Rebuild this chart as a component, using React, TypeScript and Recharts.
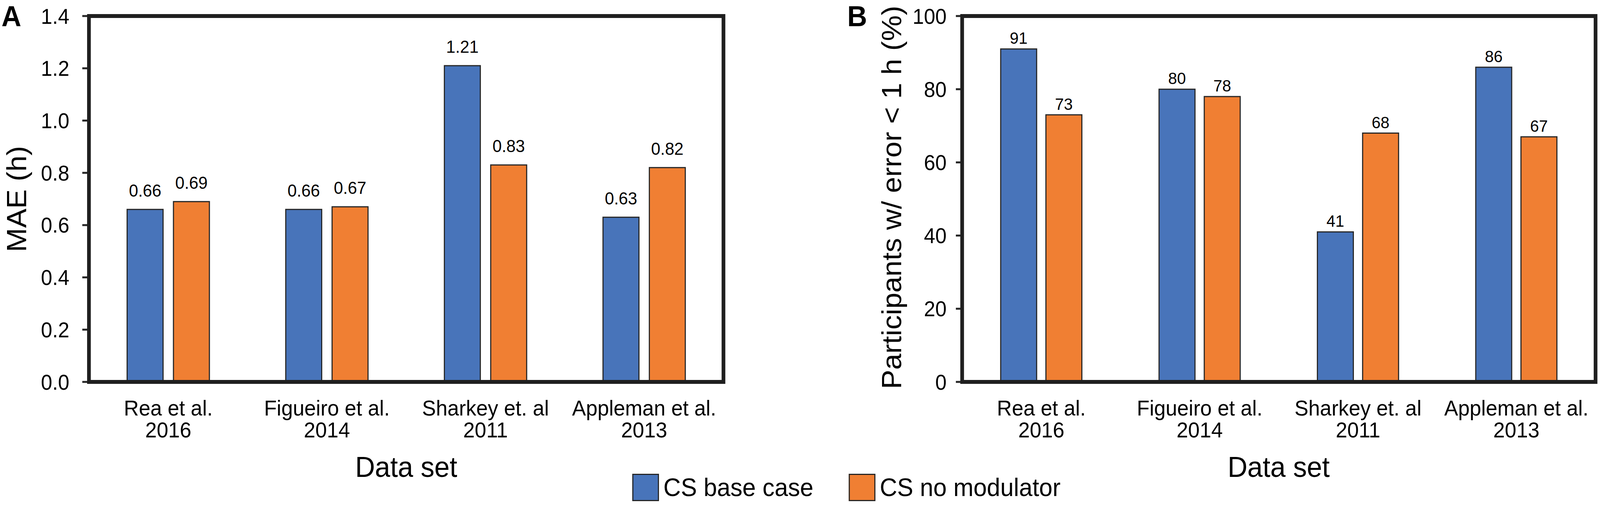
import { BarChart, Bar, XAxis, YAxis, LabelList, Legend } from 'recharts';

const categories = ['Rea 2016', 'Figueiro 2014', 'Sharkey 2011', 'Appleman 2013'];
const catLine1 = ['Rea et al.', 'Figueiro et al.', 'Sharkey et. al', 'Appleman et al.'];
const catLine2 = ['2016', '2014', '2011', '2013'];

const maeBase = [0.66, 0.66, 1.21, 0.63];
const maeNoMod = [0.69, 0.67, 0.83, 0.82];
const pctBase = [91, 80, 41, 86];
const pctNoMod = [73, 78, 68, 67];

const maeTicks = [0, 0.2, 0.4, 0.6, 0.8, 1.0, 1.2, 1.4];
const pctTicks = [0, 20, 40, 60, 80, 100];

const BLUE = '#4874BA';
const ORANGE = '#F07F33';
const EDGE = '#262626';
const FONT = '"Liberation Sans", Arial, sans-serif';
const W = 4317;
const H = 1297;

const dataA = categories.map((name, i) => ({ name, base: maeBase[i], nomod: maeNoMod[i] }));
const dataB = categories.map((name, i) => ({ name, base: pctBase[i], nomod: pctNoMod[i] }));

const CatTick = (props: any) => {
  const i = categories.indexOf(props.payload.value);
  return (
    <g>
      <text x={props.x} y={1063} textAnchor="middle" fontSize={56} fill="#000" fontFamily={FONT}>
        {catLine1[i]}
      </text>
      <text x={props.x} y={1119} textAnchor="middle" fontSize={56} fill="#000" fontFamily={FONT}>
        {catLine2[i]}
      </text>
    </g>
  );
};

const LegendBox = (props: any) => (
  <div style={{ display: 'flex', alignItems: 'center', fontFamily: FONT, fontSize: 65, whiteSpace: 'nowrap' }}>
    {(props.payload || []).map((p: any, i: number) => (
      <div key={p.value} style={{ display: 'flex', alignItems: 'center', marginRight: i === 0 ? 95 : 0 }}>
        <div style={{ width: 72, height: 70, background: p.color, border: `3px solid ${EDGE}`, boxSizing: 'border-box' }} />
        <span style={{ marginLeft: 12, color: '#000', lineHeight: '70px' }}>{p.value}</span>
      </div>
    ))}
  </div>
);

const tickStyle = { fontSize: 55, fill: '#000', fontFamily: FONT };
const valueStyle = { fill: '#000', fontFamily: FONT };

export default function App() {
  // the window may come out narrower than the figure; fit the figure to it
  const sx = typeof window !== 'undefined' ? Math.min(window.innerWidth / W, 1) : 1;
  const sy = typeof window !== 'undefined' ? Math.min(window.innerHeight / H, 1) : 1;
  return (
    <div style={{ position: 'fixed', left: 0, top: 0, width: W, height: H, background: '#fff', transform: `scale(${sx}, ${sy})`, transformOrigin: '0 0' }}>
      <div style={{ position: 'absolute', left: 0, top: 0 }}>
        <BarChart width={W} height={H} data={dataA} margin={{ top: 41, left: 0, right: W - 1952, bottom: 0 }} barSize={97} barGap={28}>
          <XAxis dataKey="name" height={320} tickLine={false} axisLine={false} interval={0} tick={(p: any) => <CatTick {...p} />} />
          <YAxis
            width={240}
            domain={[0, 1.4]}
            ticks={maeTicks}
            tickFormatter={(v: number) => v.toFixed(1)}
            axisLine={false}
            tickLine={{ stroke: EDGE, strokeWidth: 5 }}
            tickSize={18}
            tickMargin={35}
            tick={tickStyle}
          />
          <Legend
            layout="horizontal"
            verticalAlign="middle"
            align="center"
            wrapperStyle={{ left: 1706, top: 1212, width: 'auto' }}
            content={(p: any) => <LegendBox {...p} />}
          />
          <Bar dataKey="base" name="CS base case" fill={BLUE} stroke={EDGE} strokeWidth={3} isAnimationActive={false}>
            <LabelList dataKey="base" position="top" offset={33} fontSize={45} style={valueStyle} formatter={(v: any) => Number(v).toFixed(2)} />
          </Bar>
          <Bar dataKey="nomod" name="CS no modulator" fill={ORANGE} stroke={EDGE} strokeWidth={3} isAnimationActive={false}>
            <LabelList dataKey="nomod" position="top" offset={33} fontSize={45} style={valueStyle} formatter={(v: any) => Number(v).toFixed(2)} />
          </Bar>
        </BarChart>
      </div>

      <div style={{ position: 'absolute', left: 0, top: 0 }}>
        <BarChart width={W} height={H} data={dataB} margin={{ top: 41, left: 2336, right: W - 4305, bottom: 0 }} barSize={97} barGap={25}>
          <XAxis dataKey="name" height={320} tickLine={false} axisLine={false} interval={0} tick={(p: any) => <CatTick {...p} />} />
          <YAxis
            width={260}
            domain={[0, 100]}
            ticks={pctTicks}
            axisLine={false}
            tickLine={{ stroke: EDGE, strokeWidth: 5 }}
            tickSize={17}
            tickMargin={25}
            tick={tickStyle}
          />
          <Bar dataKey="base" name="CS base case" fill={BLUE} stroke={EDGE} strokeWidth={3} isAnimationActive={false}>
            <LabelList dataKey="base" position="top" offset={13} fontSize={43} style={valueStyle} />
          </Bar>
          <Bar dataKey="nomod" name="CS no modulator" fill={ORANGE} stroke={EDGE} strokeWidth={3} isAnimationActive={false}>
            <LabelList dataKey="nomod" position="top" offset={13} fontSize={43} style={valueStyle} />
          </Bar>
        </BarChart>
      </div>

      {/* plot frames */}
      <div style={{ position: 'absolute', left: 235, top: 36, width: 1722, height: 946, border: '10px solid #1f1f1f', boxSizing: 'border-box' }} />
      <div style={{ position: 'absolute', left: 2591, top: 36, width: 1719, height: 946, border: '10px solid #1f1f1f', boxSizing: 'border-box' }} />

      {/* titles */}
      <svg width={W} height={H} style={{ position: 'absolute', left: 0, top: 0, pointerEvents: 'none' }} fontFamily={FONT}>
        <text x={4} y={67} fontSize={74} fontWeight="bold" fill="#000">A</text>
        <text x={2286} y={67} fontSize={74} fontWeight="bold" fill="#000">B</text>
        <text transform="translate(71,509) rotate(-90)" textAnchor="middle" fontSize={74} fill="#000">MAE (h)</text>
        <text transform="translate(2431,505) rotate(-90)" textAnchor="middle" fontSize={74} fill="#000">Participants w/ error &lt; 1 h (%)</text>
        <text x={1096} y={1220} textAnchor="middle" fontSize={74} fill="#000">Data set</text>
        <text x={3450} y={1220} textAnchor="middle" fontSize={74} fill="#000">Data set</text>
      </svg>
    </div>
  );
}
